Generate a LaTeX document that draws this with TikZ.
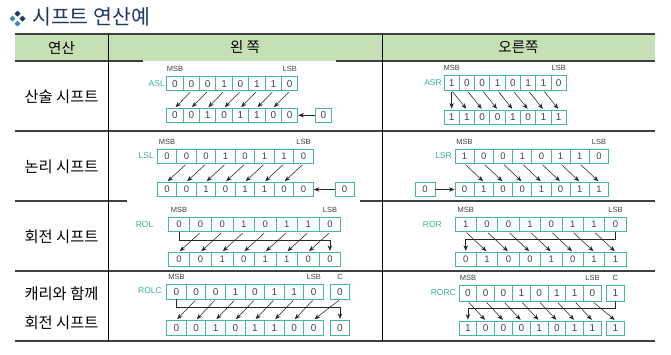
\documentclass[tikz,border=0pt]{standalone}
\usepackage{fontspec}
\setmainfont{Liberation Sans}
\newfontfamily\kr{Noto Sans CJK KR}
\usetikzlibrary{arrows.meta,calc}
\definecolor{tealc}{HTML}{45B5A5}
\definecolor{tealt}{HTML}{3AB0A0}
\definecolor{hdr}{HTML}{C5E0B4}
\definecolor{navy}{HTML}{1F3864}
\definecolor{bulb}{HTML}{3C8DAB}
\definecolor{rulec}{HTML}{404040}
\definecolor{dig}{HTML}{444444}

\newcommand\myreg[7]{% name, xleft, ytop, w, h, digits, fontsize
  \foreach \d [count=\i] in {#6} {
    \node[cell, minimum width=#4pt, minimum height=#5pt, font=\fontsize{#7}{#7}\selectfont] (#1\i) at ({#2+(\i-0.5)*#4}, {#3+#5/2}) {\d};
  }
}
\newcommand\mycell[7]{% name, xleft, ytop, w, h, digit, fontsize
  \node[cell, minimum width=#4pt, minimum height=#5pt, font=\fontsize{#7}{#7}\selectfont] (#1) at ({#2+#4/2}, {#3+#5/2}) {#6};
}

\begin{document}
\begin{tikzpicture}[x=1pt,y=-1pt,
  cell/.style={draw=tealc, line width=0.9pt, inner sep=0pt, text=dig},
  arr/.style={draw=black!85, line width=0.55pt, -{Stealth[length=5.5pt,width=4.4pt]}},
  diag/.style={arr, shorten <=1.5pt, shorten >=1pt},
  msb/.style={inner sep=0pt, text=dig, font=\fontsize{7.5}{7.5}\selectfont, above=4pt},
  reglab/.style={inner sep=0pt, text=tealt, anchor=east, font=\fontsize{8.5}{8.5}\selectfont},
  hline/.style={draw=rulec, line width=1.4pt},
  vline/.style={draw=black, line width=0.9pt},
  krtext/.style={inner sep=0pt, font=\kr\fontsize{15.3}{15.3}\selectfont, text=black},
  hdrtext/.style={inner sep=0pt, font=\kr\fontsize{14.5}{14.5}\selectfont, text=black}]
\useasboundingbox (0,0) rectangle (671,354);
\fill[white] (0,0) rectangle (671,354);

% title
\fill[navy] (17.5,10.5) -- (20.5,13.5) -- (17.5,16.5) -- (14.5,13.5) -- cycle;
\fill[navy] (22.5,15.5) -- (25.5,18.5) -- (22.5,21.5) -- (19.5,18.5) -- cycle;
\fill[bulb] (12.5,15.5) -- (15.5,18.5) -- (12.5,21.5) -- (9.5,18.5) -- cycle;
\fill[bulb] (17.5,20.5) -- (20.5,23.5) -- (17.5,26.5) -- (14.5,23.5) -- cycle;
\node[inner sep=0pt, anchor=west, text=navy, font=\kr\fontsize{20.5}{20.5}\selectfont] (title) at (32,17) {시프트 연산예};

% table
\fill[hdr] (15,34) rectangle (655,61);
\draw[hline] (15,34) -- (655,34);
\draw[hline] (15,61) -- (143,61);
\draw[hline] (336,61) -- (655,61);
\draw[hline] (15,131) -- (655,131);
\draw[hline] (15,201) -- (127,201);
\draw[hline] (360,201) -- (655,201);
\draw[hline] (15,271) -- (655,271);
\draw[hline] (15,341) -- (655,341);
\draw[vline] (108,34) -- (108,341);
\draw[vline] (382,34) -- (382,341);

\node[hdrtext] (h1) at (61.5,47.5) {연산};
\node[hdrtext] (h2) at (245,47.5) {왼 쪽};
\node[hdrtext] (h3) at (518.5,47.5) {오른쪽};

\node[krtext] (r1) at (61.5,96.5) {산술 시프트};
\node[krtext] (r2) at (61.5,167) {논리 시프트};
\node[krtext] (r3) at (61.5,237) {회전 시프트};
\node[krtext] (r4a) at (61.5,293.5) {캐리와 함께};
\node[krtext] (r4b) at (61.5,322.5) {회전 시프트};

% ---- ASL
\myreg{tA}{166.7}{76.7}{16.4}{14}{0,0,0,1,0,1,1,0}{10}
\myreg{bA}{166.7}{108.3}{16.4}{14}{0,0,1,0,1,1,0,0}{10}
\mycell{eA}{315}{108.3}{16.7}{14}{0}{10}
\node[msb] (mA) at (tA1.north) {MSB};
\node[msb] (lA) at (tA8.north) {LSB};
\node[reglab] (nA) at (165,83.7) {ASL};
\foreach \i [evaluate=\i as \j using int(\i+1)] in {1,...,7} {\draw[diag] (tA\j.south) -- (bA\i.north);}
\draw[arr] (eA.west) -- (bA8.east);

% ---- ASR
\myreg{tB}{444}{75.7}{15.3}{14.3}{1,0,0,1,0,1,1,0}{10}
\myreg{bB}{444}{110}{15.3}{14}{1,1,0,0,1,0,1,1}{10}
\node[msb] (mB) at (tB1.north) {MSB};
\node[msb] (lB) at (tB8.north) {LSB};
\node[reglab] (nB) at (442,82.8) {ASR};
\draw[diag] (tB1.south) -- (bB1.north);
\foreach \i [evaluate=\i as \j using int(\i+1)] in {1,...,7} {\draw[diag] (tB\i.south) -- (bB\j.north);}

% ---- LSL
\myreg{tC}{157.3}{149}{19.5}{14.3}{0,0,0,1,0,1,1,0}{9.5}
\myreg{bC}{157.3}{182.3}{19.5}{14.4}{0,0,1,0,1,1,0,0}{9.5}
\mycell{eC}{335}{182.3}{19}{14.4}{0}{9.5}
\node[msb] (mC) at (tC1.north) {MSB};
\node[msb] (lC) at (tC8.north) {LSB};
\node[reglab] (nC) at (154,156) {LSL};
\foreach \i [evaluate=\i as \j using int(\i+1)] in {1,...,7} {\draw[diag] (tC\j.south) -- (bC\i.north);}
\draw[arr] (eC.west) -- (bC8.east);

% ---- LSR
\myreg{tD}{455}{149}{19.2}{14.3}{1,0,0,1,0,1,1,0}{9.5}
\myreg{bD}{455}{182.3}{19.2}{14.4}{0,1,0,0,1,0,1,1}{9.5}
\mycell{eD}{415}{182.3}{20}{14.4}{0}{9.5}
\node[msb] (mD) at (tD1.north) {MSB};
\node[msb] (lD) at (tD8.north) {LSB};
\node[reglab] (nD) at (452,156) {LSR};
\foreach \i [evaluate=\i as \j using int(\i+1)] in {1,...,7} {\draw[diag] (tD\i.south) -- (bD\j.north);}
\draw[arr] (eD.east) -- (bD1.west);

% ---- ROL
\myreg{tE}{168.3}{217.7}{21.55}{14}{0,0,0,1,0,1,1,0}{9.5}
\myreg{bE}{168.3}{252.3}{21.55}{14}{0,0,1,0,1,1,0,0}{9.5}
\node[msb] (mE) at (tE1.north) {MSB};
\node[msb] (lE) at (tE8.north) {LSB};
\node[reglab] (nE) at (153.5,225) {ROL};
\draw[arr, shorten >=1pt] (tE1.south) -- ++(0,8.3) -| (bE8.north);
\foreach \i [evaluate=\i as \j using int(\i+1)] in {1,...,7} {\draw[diag] (tE\j.south) -- (bE\i.north);}

% ---- ROR
\myreg{tF}{455}{217.7}{21.4}{13.7}{1,0,0,1,0,1,1,0}{9.5}
\myreg{bF}{455}{252.3}{21.4}{14.2}{0,1,0,0,1,0,1,1}{9.5}
\node[msb] (mF) at (tF1.north) {MSB};
\node[msb] (lF) at (tF8.north) {LSB};
\node[reglab] (nF) at (442,224.3) {ROR};
\draw[arr, shorten >=1pt] (tF8.south) -- ++(0,7.8) -| (bF1.north);
\foreach \i [evaluate=\i as \j using int(\i+1)] in {1,...,7} {\draw[diag] (tF\i.south) -- (bF\j.north);}

% ---- ROLC
\myreg{tG}{166.7}{284.3}{19.6}{14.7}{0,0,0,1,0,1,1,0}{10}
\mycell{cG}{330.7}{284.3}{18.6}{14.7}{0}{10}
\myreg{bG}{166.7}{320.3}{19.6}{15.5}{0,0,1,0,1,1,0,0}{10}
\mycell{dG}{330.7}{320.3}{18.6}{15.5}{0}{10}
\node[msb] (mG) at (tG1.north) {MSB};
\node[msb] (lG) at (tG8.north) {LSB};
\node[msb] (kG) at (cG.north) {C};
\node[reglab] (nG) at (162,291) {ROLC};
\draw[arr, shorten >=1pt] (tG1.south) -- ++(0,7.7) -| (dG.north);
\foreach \i [evaluate=\i as \j using int(\i+1)] in {1,...,7} {\draw[diag] (tG\j.south) -- (bG\i.north);}
\draw[diag] (cG.south) -- (bG8.north);

% ---- RORC
\myreg{tH}{459}{285.7}{17.8}{15.3}{0,0,0,1,0,1,1,0}{10}
\mycell{cH}{606.7}{285.7}{17.3}{15.3}{1}{10}
\myreg{bH}{459}{321}{17.8}{14.7}{1,0,0,0,1,0,1,1}{10}
\mycell{dH}{606.7}{321}{17.3}{14.7}{1}{10}
\node[msb] (mH) at (tH1.north) {MSB};
\node[msb] (lH) at (tH8.north) {LSB};
\node[msb] (kH) at (cH.north) {C};
\node[reglab] (nH) at (456,292.5) {RORC};
\draw[arr, shorten >=1pt] (cH.south) -- ++(0,7) -| (bH1.north);
\foreach \i [evaluate=\i as \j using int(\i+1)] in {1,...,7} {\draw[diag] (tH\i.south) -- (bH\j.north);}
\draw[diag] (tH8.south) -- (dH.north);
\end{tikzpicture}
\end{document}
